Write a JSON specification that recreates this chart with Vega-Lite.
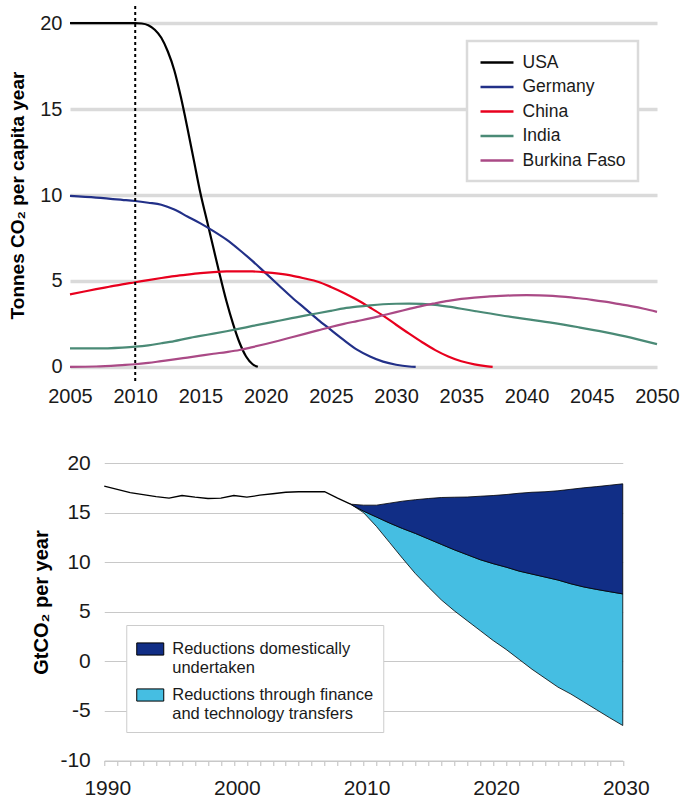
{
  "$schema": "https://vega.github.io/schema/vega-lite/v6.json",
  "background": "white",
  "padding": {"left": 8, "top": 5, "right": 0, "bottom": 0},
  "config": {"font": "Liberation Sans", "view": {"stroke": null}},
  "bounds": "flush",
  "center": true,
  "spacing": 79,
  "resolve": {"scale": {"color": "independent", "x": "independent", "y": "independent"}, "legend": {"color": "independent"}},
  "datasets": {
    "emissions": [
      {"country": "USA", "year": 2005, "value": 20},
      {"country": "USA", "year": 2008, "value": 20},
      {"country": "USA", "year": 2010, "value": 20},
      {"country": "USA", "year": 2010.5, "value": 19.98},
      {"country": "USA", "year": 2011, "value": 19.88},
      {"country": "USA", "year": 2011.5, "value": 19.62},
      {"country": "USA", "year": 2012, "value": 19.15},
      {"country": "USA", "year": 2012.5, "value": 18.35},
      {"country": "USA", "year": 2013, "value": 17.25},
      {"country": "USA", "year": 2013.5, "value": 15.7},
      {"country": "USA", "year": 2014, "value": 13.9},
      {"country": "USA", "year": 2014.5, "value": 12.0},
      {"country": "USA", "year": 2015, "value": 10.1},
      {"country": "USA", "year": 2015.5, "value": 8.5},
      {"country": "USA", "year": 2016, "value": 6.9},
      {"country": "USA", "year": 2016.5, "value": 5.3},
      {"country": "USA", "year": 2017, "value": 3.8},
      {"country": "USA", "year": 2017.5, "value": 2.5},
      {"country": "USA", "year": 2018, "value": 1.4},
      {"country": "USA", "year": 2018.5, "value": 0.6},
      {"country": "USA", "year": 2019, "value": 0.15},
      {"country": "USA", "year": 2019.4, "value": 0},
      {"country": "Germany", "year": 2005, "value": 9.95},
      {"country": "Germany", "year": 2007, "value": 9.85},
      {"country": "Germany", "year": 2009, "value": 9.72},
      {"country": "Germany", "year": 2010, "value": 9.65},
      {"country": "Germany", "year": 2011, "value": 9.55},
      {"country": "Germany", "year": 2012, "value": 9.43},
      {"country": "Germany", "year": 2013, "value": 9.15},
      {"country": "Germany", "year": 2014, "value": 8.75},
      {"country": "Germany", "year": 2015, "value": 8.35},
      {"country": "Germany", "year": 2016, "value": 7.9},
      {"country": "Germany", "year": 2017, "value": 7.4},
      {"country": "Germany", "year": 2018, "value": 6.8},
      {"country": "Germany", "year": 2019, "value": 6.15},
      {"country": "Germany", "year": 2020, "value": 5.45},
      {"country": "Germany", "year": 2021, "value": 4.75},
      {"country": "Germany", "year": 2022, "value": 4.05},
      {"country": "Germany", "year": 2023, "value": 3.4},
      {"country": "Germany", "year": 2024, "value": 2.75},
      {"country": "Germany", "year": 2025, "value": 2.15},
      {"country": "Germany", "year": 2026, "value": 1.55},
      {"country": "Germany", "year": 2027, "value": 1.0},
      {"country": "Germany", "year": 2028, "value": 0.6},
      {"country": "Germany", "year": 2029, "value": 0.3},
      {"country": "Germany", "year": 2030, "value": 0.12},
      {"country": "Germany", "year": 2031, "value": 0.02},
      {"country": "Germany", "year": 2031.5, "value": 0},
      {"country": "China", "year": 2005, "value": 4.22},
      {"country": "China", "year": 2006, "value": 4.37},
      {"country": "China", "year": 2007, "value": 4.52},
      {"country": "China", "year": 2008, "value": 4.66},
      {"country": "China", "year": 2009, "value": 4.8},
      {"country": "China", "year": 2010, "value": 4.92},
      {"country": "China", "year": 2011, "value": 5.05},
      {"country": "China", "year": 2012, "value": 5.17},
      {"country": "China", "year": 2013, "value": 5.28},
      {"country": "China", "year": 2014, "value": 5.37},
      {"country": "China", "year": 2015, "value": 5.45},
      {"country": "China", "year": 2016, "value": 5.51},
      {"country": "China", "year": 2017, "value": 5.55},
      {"country": "China", "year": 2018, "value": 5.56},
      {"country": "China", "year": 2019, "value": 5.55},
      {"country": "China", "year": 2020, "value": 5.5},
      {"country": "China", "year": 2021, "value": 5.42},
      {"country": "China", "year": 2022, "value": 5.31},
      {"country": "China", "year": 2023, "value": 5.14},
      {"country": "China", "year": 2024, "value": 4.95},
      {"country": "China", "year": 2025, "value": 4.65},
      {"country": "China", "year": 2026, "value": 4.3},
      {"country": "China", "year": 2027, "value": 3.9},
      {"country": "China", "year": 2028, "value": 3.45},
      {"country": "China", "year": 2029, "value": 2.98},
      {"country": "China", "year": 2030, "value": 2.45},
      {"country": "China", "year": 2031, "value": 1.93},
      {"country": "China", "year": 2032, "value": 1.43},
      {"country": "China", "year": 2033, "value": 0.97},
      {"country": "China", "year": 2034, "value": 0.6},
      {"country": "China", "year": 2035, "value": 0.32},
      {"country": "China", "year": 2036, "value": 0.14},
      {"country": "China", "year": 2037, "value": 0.03},
      {"country": "China", "year": 2037.4, "value": 0},
      {"country": "India", "year": 2005, "value": 1.07},
      {"country": "India", "year": 2007, "value": 1.07},
      {"country": "India", "year": 2009, "value": 1.12},
      {"country": "India", "year": 2010, "value": 1.17},
      {"country": "India", "year": 2011, "value": 1.25},
      {"country": "India", "year": 2012, "value": 1.37},
      {"country": "India", "year": 2013, "value": 1.5},
      {"country": "India", "year": 2014, "value": 1.66},
      {"country": "India", "year": 2015, "value": 1.8},
      {"country": "India", "year": 2016, "value": 1.93},
      {"country": "India", "year": 2017, "value": 2.07},
      {"country": "India", "year": 2018, "value": 2.22},
      {"country": "India", "year": 2019, "value": 2.38},
      {"country": "India", "year": 2020, "value": 2.53},
      {"country": "India", "year": 2021, "value": 2.68},
      {"country": "India", "year": 2022, "value": 2.83},
      {"country": "India", "year": 2023, "value": 2.98},
      {"country": "India", "year": 2024, "value": 3.12},
      {"country": "India", "year": 2025, "value": 3.26},
      {"country": "India", "year": 2026, "value": 3.4},
      {"country": "India", "year": 2027, "value": 3.5},
      {"country": "India", "year": 2028, "value": 3.58},
      {"country": "India", "year": 2029, "value": 3.64},
      {"country": "India", "year": 2030, "value": 3.67},
      {"country": "India", "year": 2031, "value": 3.68},
      {"country": "India", "year": 2032, "value": 3.66},
      {"country": "India", "year": 2033, "value": 3.6},
      {"country": "India", "year": 2034, "value": 3.5},
      {"country": "India", "year": 2035, "value": 3.38},
      {"country": "India", "year": 2036, "value": 3.25},
      {"country": "India", "year": 2038, "value": 3.0},
      {"country": "India", "year": 2040, "value": 2.78},
      {"country": "India", "year": 2042, "value": 2.56},
      {"country": "India", "year": 2044, "value": 2.3},
      {"country": "India", "year": 2046, "value": 2.02},
      {"country": "India", "year": 2048, "value": 1.7},
      {"country": "India", "year": 2050, "value": 1.32},
      {"country": "Burkina Faso", "year": 2005, "value": 0.0},
      {"country": "Burkina Faso", "year": 2007, "value": 0.02},
      {"country": "Burkina Faso", "year": 2009, "value": 0.1},
      {"country": "Burkina Faso", "year": 2010, "value": 0.15},
      {"country": "Burkina Faso", "year": 2011, "value": 0.23},
      {"country": "Burkina Faso", "year": 2012, "value": 0.33},
      {"country": "Burkina Faso", "year": 2013, "value": 0.43},
      {"country": "Burkina Faso", "year": 2014, "value": 0.54},
      {"country": "Burkina Faso", "year": 2015, "value": 0.65},
      {"country": "Burkina Faso", "year": 2016, "value": 0.76},
      {"country": "Burkina Faso", "year": 2017, "value": 0.86},
      {"country": "Burkina Faso", "year": 2018, "value": 0.98},
      {"country": "Burkina Faso", "year": 2019, "value": 1.15},
      {"country": "Burkina Faso", "year": 2020, "value": 1.33},
      {"country": "Burkina Faso", "year": 2021, "value": 1.52},
      {"country": "Burkina Faso", "year": 2022, "value": 1.72},
      {"country": "Burkina Faso", "year": 2023, "value": 1.92},
      {"country": "Burkina Faso", "year": 2024, "value": 2.12},
      {"country": "Burkina Faso", "year": 2025, "value": 2.32},
      {"country": "Burkina Faso", "year": 2026, "value": 2.5},
      {"country": "Burkina Faso", "year": 2027, "value": 2.66},
      {"country": "Burkina Faso", "year": 2028, "value": 2.82},
      {"country": "Burkina Faso", "year": 2029, "value": 3.0},
      {"country": "Burkina Faso", "year": 2030, "value": 3.18},
      {"country": "Burkina Faso", "year": 2031, "value": 3.37},
      {"country": "Burkina Faso", "year": 2032, "value": 3.55},
      {"country": "Burkina Faso", "year": 2033, "value": 3.7},
      {"country": "Burkina Faso", "year": 2034, "value": 3.84},
      {"country": "Burkina Faso", "year": 2035, "value": 3.95},
      {"country": "Burkina Faso", "year": 2036, "value": 4.03},
      {"country": "Burkina Faso", "year": 2037, "value": 4.09},
      {"country": "Burkina Faso", "year": 2038, "value": 4.13},
      {"country": "Burkina Faso", "year": 2039, "value": 4.16},
      {"country": "Burkina Faso", "year": 2040, "value": 4.17},
      {"country": "Burkina Faso", "year": 2041, "value": 4.16},
      {"country": "Burkina Faso", "year": 2042, "value": 4.13},
      {"country": "Burkina Faso", "year": 2043, "value": 4.07},
      {"country": "Burkina Faso", "year": 2044, "value": 3.99},
      {"country": "Burkina Faso", "year": 2045, "value": 3.9},
      {"country": "Burkina Faso", "year": 2046, "value": 3.79},
      {"country": "Burkina Faso", "year": 2047, "value": 3.66},
      {"country": "Burkina Faso", "year": 2048, "value": 3.53},
      {"country": "Burkina Faso", "year": 2049, "value": 3.38},
      {"country": "Burkina Faso", "year": 2050, "value": 3.2}
    ],
    "history": [
      {"year": 1990, "value": 17.66},
      {"year": 1991, "value": 17.35},
      {"year": 1992, "value": 17.02},
      {"year": 1993, "value": 16.8},
      {"year": 1994, "value": 16.6},
      {"year": 1995, "value": 16.45},
      {"year": 1996, "value": 16.72},
      {"year": 1997, "value": 16.55},
      {"year": 1998, "value": 16.42},
      {"year": 1999, "value": 16.45},
      {"year": 2000, "value": 16.72},
      {"year": 2001, "value": 16.55},
      {"year": 2002, "value": 16.75},
      {"year": 2003, "value": 16.9},
      {"year": 2004, "value": 17.05},
      {"year": 2005, "value": 17.1},
      {"year": 2006, "value": 17.1},
      {"year": 2007, "value": 17.1},
      {"year": 2008, "value": 16.45},
      {"year": 2009, "value": 15.85}
    ],
    "scenario": [
      {"year": 2009, "lower": 15.85, "middle": 15.85, "upper": 15.85},
      {"year": 2010, "lower": 15.0, "middle": 15.15, "upper": 15.75},
      {"year": 2011, "lower": 13.6, "middle": 14.55, "upper": 15.75},
      {"year": 2012, "lower": 12.0, "middle": 13.95, "upper": 15.95},
      {"year": 2013, "lower": 10.4, "middle": 13.4, "upper": 16.15},
      {"year": 2014, "lower": 8.85, "middle": 12.9, "upper": 16.3},
      {"year": 2015, "lower": 7.5, "middle": 12.35, "upper": 16.42},
      {"year": 2016, "lower": 6.2, "middle": 11.8, "upper": 16.52},
      {"year": 2017, "lower": 5.1, "middle": 11.25, "upper": 16.55},
      {"year": 2018, "lower": 4.1, "middle": 10.75, "upper": 16.57},
      {"year": 2019, "lower": 3.1, "middle": 10.25, "upper": 16.65},
      {"year": 2020, "lower": 2.1, "middle": 9.85, "upper": 16.72},
      {"year": 2021, "lower": 1.2, "middle": 9.5, "upper": 16.82},
      {"year": 2022, "lower": 0.2, "middle": 9.1, "upper": 16.95},
      {"year": 2023, "lower": -0.8, "middle": 8.8, "upper": 17.05},
      {"year": 2024, "lower": -1.7, "middle": 8.5, "upper": 17.1},
      {"year": 2025, "lower": -2.6, "middle": 8.2, "upper": 17.2},
      {"year": 2026, "lower": -3.3, "middle": 7.82, "upper": 17.35},
      {"year": 2027, "lower": -4.1, "middle": 7.5, "upper": 17.5},
      {"year": 2028, "lower": -4.9, "middle": 7.25, "upper": 17.62},
      {"year": 2029, "lower": -5.7, "middle": 7.02, "upper": 17.76},
      {"year": 2030, "lower": -6.47, "middle": 6.8, "upper": 17.9}
    ]
  },
  "vconcat": [
    {
      "width": 587,
      "height": 378,
      "layer": [
        {
          "data": {"name": "emissions"},
          "mark": {"type": "line", "interpolate": "monotone", "strokeWidth": 2.2},
          "encoding": {
            "x": {
              "field": "year", "type": "quantitative",
              "scale": {"domain": [2005, 2050], "nice": false, "zero": false},
              "axis": {
                "values": [2005, 2010, 2015, 2020, 2025, 2030, 2035, 2040, 2045, 2050],
                "format": "d", "grid": false, "domain": false, "ticks": false,
                "labelFontSize": 20, "labelPadding": 2, "labelFlush": false,
                "labelColor": "#1a1a1a", "title": null
              }
            },
            "y": {
              "field": "value", "type": "quantitative",
              "scale": {"domain": [-1, 21], "nice": false, "zero": false},
              "axis": {
                "values": [0, 5, 10, 15, 20],
                "grid": true, "gridColor": "#dadada", "gridWidth": 3.5,
                "domain": false, "ticks": false,
                "labelFontSize": 20, "labelPadding": 8, "labelColor": "#1a1a1a",
                "title": "Tonnes CO₂ per capita year",
                "titleFontSize": 19, "titleFontWeight": "bold", "titleColor": "#000000",
                "titlePadding": 12
              }
            },
            "color": {
              "field": "country", "type": "nominal",
              "scale": {
                "domain": ["USA", "Germany", "China", "India", "Burkina Faso"],
                "range": ["#000000", "#223088", "#e8001e", "#4a8a76", "#aa4a86"]
              },
              "legend": {
                "orient": "none", "legendX": 397, "legendY": 35,
                "title": null,
                "symbolType": "M-2,0H2", "symbolSize": 272, "symbolStrokeWidth": 2.5,
                "symbolOffset": 8.5,
                "labelFontSize": 17.5, "labelColor": "#1a1a1a", "labelOffset": 16,
                "labelLimit": 300,
                "rowPadding": 6.5, "padding": 12,
                "strokeColor": "#dadada", "fillColor": "white",
                "encode": {"legend": {"update": {"strokeWidth": {"value": 2.5}}}}
              }
            }
          }
        },
        {
          "data": {"values": [{"year": 2010}]},
          "mark": {"type": "rule", "strokeDash": [3, 3], "strokeWidth": 2, "color": "#000000"},
          "encoding": {"x": {"field": "year", "type": "quantitative"}}
        }
      ]
    },
    {
      "width": 518.5,
      "height": 297.5,
      "layer": [
        {
          "data": {"name": "scenario"},
          "mark": {"type": "area", "stroke": "#000000", "strokeWidth": 0.8, "opacity": 1},
          "encoding": {
            "x": {
              "field": "year", "type": "quantitative",
              "scale": {"domain": [1990, 2030], "nice": false, "zero": false},
              "axis": {
                "tickCount": 40, "format": "d",
                "labelExpr": "datum.value % 10 === 0 ? datum.label : ''",
                "grid": false, "domain": true, "domainColor": "#c8c8c8", "domainWidth": 1.2,
                "ticks": true, "tickColor": "#c8c8c8", "tickWidth": 1.2, "tickSize": 5,
                "labelFontSize": 21, "labelPadding": 12, "labelOffset": 3,
                "labelFlush": false, "labelOverlap": false, "labelColor": "#1a1a1a",
                "title": null
              }
            },
            "y": {
              "field": "lower", "type": "quantitative",
              "scale": {"domain": [-10, 20], "nice": false, "zero": false},
              "axis": {
                "values": [-10, -5, 0, 5, 10, 15, 20],
                "labelExpr": "'' + datum.value",
                "grid": true, "gridColor": "#c8c8c8", "gridWidth": 1.2,
                "domain": false, "ticks": false,
                "labelFontSize": 21, "labelPadding": 14, "labelColor": "#1a1a1a",
                "title": "GtCO₂ per year",
                "titleFontSize": 20, "titleFontWeight": "bold", "titleColor": "#000000",
                "titlePadding": 8, "titleY": 139
              }
            },
            "y2": {"field": "middle"},
            "color": {
              "datum": "Reductions through finance and technology transfers",
              "type": "nominal",
              "scale": {
                "domain": ["Reductions domestically undertaken", "Reductions through finance and technology transfers"],
                "range": ["#112e86", "#45bee2"]
              },
              "legend": {
                "orient": "none", "legendX": 22, "legendY": 162,
                "title": null,
                "symbolType": "M-1,-0.45H1V0.45H-1Z", "symbolSize": 729,
                "symbolStrokeWidth": 1, "symbolStrokeColor": "#000000",
                "labelFontSize": 16.5, "labelLineHeight": 18, "labelColor": "#1a1a1a",
                "labelLimit": 400,
                "labelOffset": 8, "rowPadding": 5, "padding": 10,
                "labelExpr": "datum.label == 'Reductions domestically undertaken' ? ['Reductions domestically', 'undertaken'] : ['Reductions through finance', 'and technology transfers']",
                "strokeColor": "#cccccc", "fillColor": "white",
                "encode": {
                  "legend": {"update": {"strokeWidth": {"value": 1.5}}}
                }
              }
            }
          }
        },
        {
          "data": {"name": "scenario"},
          "mark": {"type": "area", "stroke": "#000000", "strokeWidth": 0.8, "opacity": 1},
          "encoding": {
            "x": {"field": "year", "type": "quantitative"},
            "y": {"field": "middle", "type": "quantitative"},
            "y2": {"field": "upper"},
            "color": {"datum": "Reductions domestically undertaken", "type": "nominal"}
          }
        },
        {
          "data": {"name": "history"},
          "mark": {"type": "line", "color": "#000000", "strokeWidth": 1.3},
          "encoding": {
            "x": {"field": "year", "type": "quantitative"},
            "y": {"field": "value", "type": "quantitative"}
          }
        }
      ]
    }
  ]
}
